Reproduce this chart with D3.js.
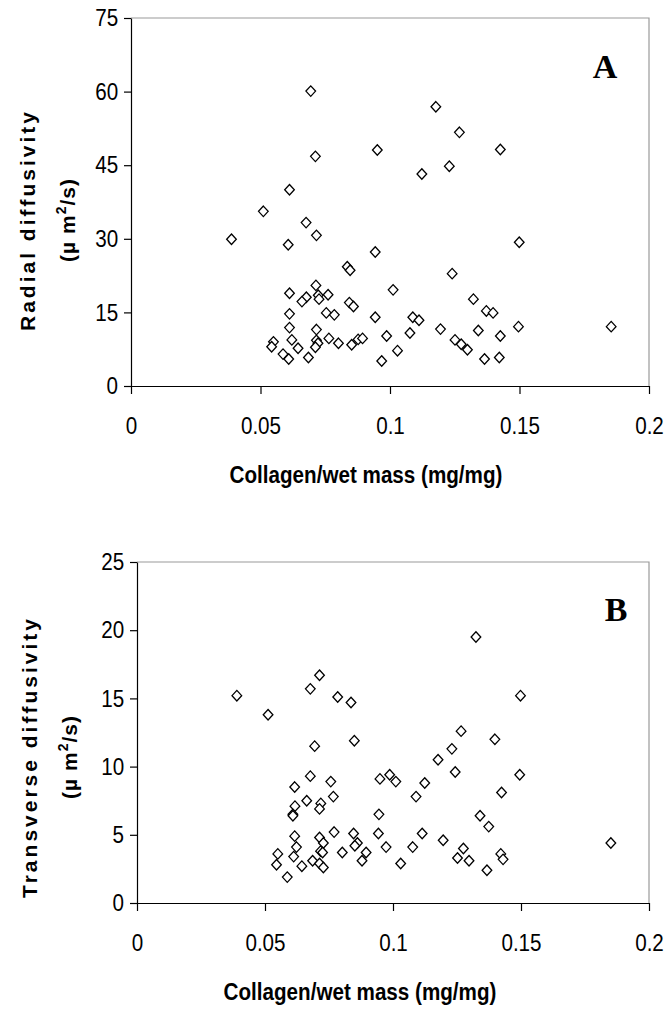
<!DOCTYPE html>
<html>
<head>
<meta charset="utf-8">
<script src="https://cdn.jsdelivr.net/npm/d3@7"></script>
<style>
  html, body { margin: 0; padding: 0; background: #fff; }
  svg { display: block; }
  .tick text { font-family: "Liberation Sans", Arial, sans-serif; }
</style>
</head>
<body>
<div id="chart"></div>
<script>
// ---- Data ----
const xTickValues = [0, 0.05, 0.1, 0.15, 0.2];
const radialTicks = [0, 15, 30, 45, 60, 75];
const transverseTicks = [0, 5, 10, 15, 20, 25];

// Panel A: collagen/wet mass vs radial diffusivity
const radialX = [0.0694, 0.1177, 0.1268, 0.0951, 0.1426, 0.0712, 0.1229, 0.1123, 0.0612,
  0.0511, 0.0676, 0.0388, 0.0716, 0.0607, 0.1499, 0.0943, 0.0835, 0.0846, 0.1240,
  0.0714, 0.1012, 0.0612, 0.0723, 0.0761, 0.0726, 0.0677, 0.0660, 0.1322, 0.0843,
  0.0859, 0.1372, 0.1398, 0.0612, 0.0754, 0.0785, 0.0943, 0.1088, 0.1112, 0.0612,
  0.0716, 0.1195, 0.1341, 0.1426, 0.0621, 0.0987, 0.1077, 0.1496, 0.1854, 0.0550,
  0.0543, 0.0645, 0.0716, 0.0722, 0.0712, 0.0764, 0.0801, 0.0852, 0.0877, 0.0894,
  0.1251, 0.1275, 0.1299, 0.1029, 0.0587, 0.0609, 0.0685, 0.0968, 0.1365, 0.1422];
const radialY = [60.1, 56.9, 51.7, 48.1, 48.2, 46.8, 44.8, 43.2, 40.0,
  35.6, 33.3, 29.9, 30.7, 28.8, 29.3, 27.3, 24.3, 23.6, 22.9,
  20.5, 19.6, 18.9, 18.5, 18.6, 17.7, 18.1, 17.2, 17.7, 17.0,
  16.2, 15.3, 14.9, 14.7, 14.9, 14.5, 14.0, 14.0, 13.4, 11.9,
  11.5, 11.6, 11.3, 10.2, 9.4, 10.2, 10.8, 12.1, 12.1, 9.0,
  8.0, 7.7, 9.3, 8.7, 7.9, 9.7, 8.7, 8.4, 9.5, 9.7,
  9.4, 8.5, 7.4, 7.2, 6.5, 5.5, 5.8, 5.1, 5.5, 5.8];

// Panel B: collagen/wet mass vs transverse diffusivity
const transverseX = [0.1324, 0.0713, 0.0677, 0.0390, 0.0784, 0.1498, 0.0836, 0.0512,
  0.0694, 0.0849, 0.1266, 0.1398, 0.1230, 0.1176, 0.1243, 0.1495, 0.0677, 0.0987,
  0.0949, 0.1011, 0.0757, 0.1124, 0.0616, 0.1424, 0.0767, 0.1090, 0.0663, 0.0718,
  0.0617, 0.0713, 0.0609, 0.0609, 0.0945, 0.1340, 0.1374, 0.0770, 0.0846, 0.0943,
  0.1114, 0.0616, 0.0713, 0.1196, 0.1851, 0.0728, 0.0861, 0.0851, 0.0623, 0.0973,
  0.1077, 0.1275, 0.0717, 0.0725, 0.0802, 0.0895, 0.0550, 0.1421, 0.0612, 0.1252,
  0.1430, 0.0686, 0.0879, 0.1297, 0.0713, 0.0545, 0.1030, 0.0644, 0.0728, 0.1367, 0.0587];
const transverseY = [19.5, 16.7, 15.7, 15.2, 15.1, 15.2, 14.7, 13.8,
  11.5, 11.9, 12.6, 12.0, 11.3, 10.5, 9.6, 9.4, 9.3, 9.4,
  9.1, 8.9, 8.9, 8.8, 8.5, 8.1, 7.8, 7.8, 7.5, 7.3,
  7.1, 6.9, 6.5, 6.4, 6.5, 6.4, 5.6, 5.2, 5.1, 5.1,
  5.1, 4.9, 4.8, 4.6, 4.4, 4.4, 4.4, 4.2, 4.1, 4.1,
  4.1, 4.0, 3.8, 3.7, 3.7, 3.7, 3.6, 3.6, 3.4, 3.3,
  3.2, 3.1, 3.1, 3.1, 2.9, 2.8, 2.9, 2.7, 2.6, 2.4, 1.9];

const xTitle = "Collagen/wet mass (mg/mg)";

// ---- Drawing ----
const W = 670, H = 1012;
const SX = 0.86; // horizontal condensation of the Arial-like text
const svg = d3.select("#chart").append("svg").attr("width", W).attr("height", H);

const diamond = {
  draw(ctx, size) {
    const r = Math.sqrt(size) / 2;
    ctx.moveTo(0, -r); ctx.lineTo(r * 0.92, 0); ctx.lineTo(0, r); ctx.lineTo(-r * 0.92, 0); ctx.closePath();
  }
};

function panel(cfg) {
  const g = svg.append("g");
  const x = d3.scaleLinear().domain([0, 0.2]).range([cfg.left, cfg.right]);
  const y = d3.scaleLinear().domain([0, cfg.yMax]).range([cfg.bottom, cfg.top]);

  g.append("path")
    .attr("d", `M${cfg.left},${cfg.top}H${cfg.right}V${cfg.bottom}`)
    .attr("fill", "none").attr("stroke", "#9a9a9a").attr("stroke-width", 1.2);

  const ya = g.append("g").attr("transform", `translate(${cfg.left},0)`)
    .call(d3.axisLeft(y).tickValues(cfg.yTicks).tickSize(7).tickPadding(8).tickSizeOuter(0));
  const xa = g.append("g").attr("transform", `translate(0,${cfg.bottom})`)
    .call(d3.axisBottom(x).tickValues(xTickValues).tickSize(8).tickPadding(23).tickSizeOuter(0)
      .tickFormat(d => String(d)));
  [ya, xa].forEach(a => {
    a.select(".domain").attr("stroke", "#000").attr("stroke-width", 1.2);
    a.selectAll(".tick line").attr("stroke", "#000").attr("stroke-width", 1.2);
    a.selectAll(".tick text").attr("fill", "#000").style("font-size", "24px")
      .attr("transform", `scale(${SX},1)`);
  });

  const sym = d3.symbol().type(diamond).size(110);
  g.append("g").selectAll("path").data(cfg.xs.map((v, i) => [v, cfg.ys[i]]))
    .join("path")
    .attr("transform", d => `translate(${x(d[0])},${y(d[1])})`)
    .attr("d", sym)
    .attr("fill", "#fff").attr("stroke", "#000").attr("stroke-width", 1.3);

  g.append("text").attr("x", cfg.letterX).attr("y", cfg.top + cfg.letterDy)
    .attr("text-anchor", "middle")
    .style("font-family", "'Liberation Serif', 'Times New Roman', serif")
    .style("font-weight", "bold").style("font-size", "34px").text(cfg.letter);

  const yt = g.append("text")
    .attr("transform", `translate(${cfg.yTitleX},${cfg.yTitleY}) rotate(-90)`)
    .attr("text-anchor", "middle")
    .style("font-family", "'Liberation Sans', Arial, sans-serif")
    .style("font-weight", "bold").style("font-size", "21px");
  yt.append("tspan").attr("x", 0).attr("dy", 0).style("letter-spacing", "3px").text(cfg.yTitle);
  const l2 = yt.append("tspan").attr("x", 0).attr("dy", 40).style("letter-spacing", "1px");
  l2.append("tspan").text("(\u00B5 m");
  l2.append("tspan").attr("dy", -9).style("font-size", "14px").text("2");
  l2.append("tspan").attr("dy", 9).text("/s)");

  g.append("text")
    .attr("transform", `translate(${cfg.xTitleX},${cfg.bottom + 97}) scale(${SX},1)`)
    .attr("text-anchor", "middle")
    .style("font-family", "'Liberation Sans', Arial, sans-serif")
    .style("font-weight", "bold").style("font-size", "24px").text(xTitle);
}

panel({ left: 131, right: 649, top: 18, bottom: 386, yMax: 75, yTicks: radialTicks,
  xs: radialX, ys: radialY, letter: "A", letterX: 605, letterDy: 60,
  yTitle: "Radial diffusivity", yTitleX: 35, yTitleY: 220, xTitleX: 366 });
panel({ left: 137, right: 649, top: 562, bottom: 903, yMax: 25, yTicks: transverseTicks,
  xs: transverseX, ys: transverseY, letter: "B", letterX: 616, letterDy: 59,
  yTitle: "Transverse diffusivity", yTitleX: 37, yTitleY: 757, xTitleX: 360 });
</script>
</body>
</html>
